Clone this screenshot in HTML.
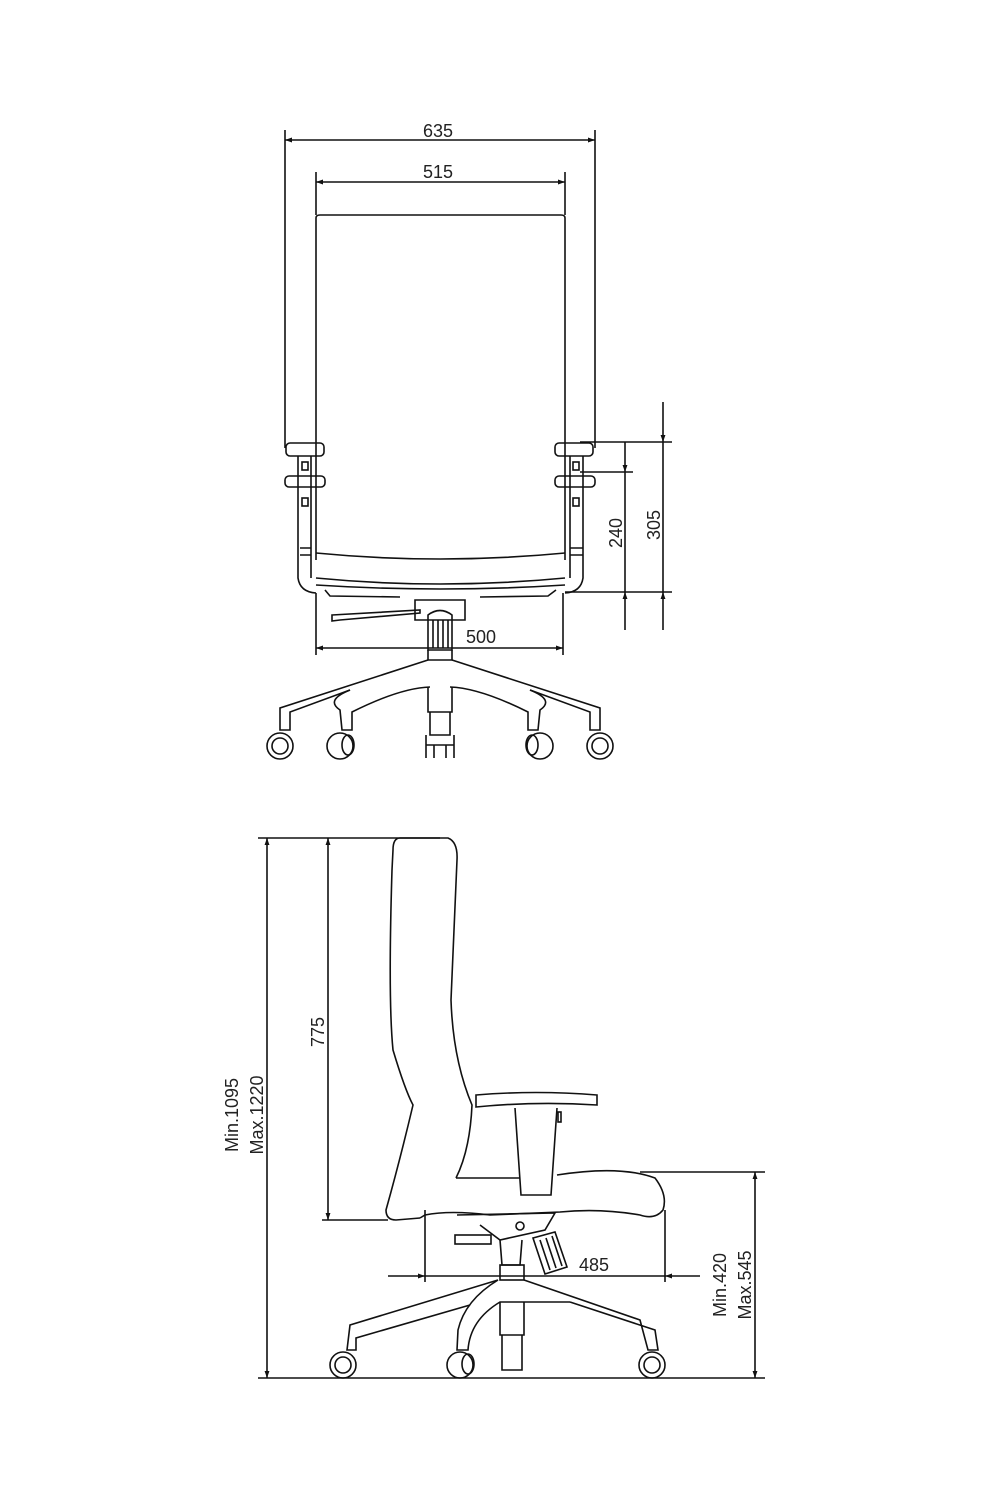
<!DOCTYPE html>
<html><head><meta charset="utf-8"><style>
html,body{margin:0;padding:0;background:#fff}
svg{display:block}
text{font-family:"Liberation Sans","DejaVu Sans",sans-serif;font-size:18px;fill:#222}
</style></head><body>
<svg width="1000" height="1500" viewBox="0 0 1000 1500" xmlns="http://www.w3.org/2000/svg">
<defs>
<marker id="a" viewBox="0 0 10 10" refX="10" refY="5" markerWidth="14" markerHeight="7" orient="auto-start-reverse" markerUnits="userSpaceOnUse"><path d="M0,1.5 L10,5 L0,8.5z" fill="#111"/></marker>
</defs>
<g fill="none" stroke="#111" stroke-width="1.6">
<!-- FRONT VIEW dims -->
<line x1="285" y1="130" x2="285" y2="448"/><line x1="595" y1="130" x2="595" y2="448"/>
<line x1="285" y1="140" x2="595" y2="140" marker-start="url(#a)" marker-end="url(#a)"/>
<line x1="316" y1="172" x2="316" y2="215"/><line x1="565" y1="172" x2="565" y2="215"/>
<line x1="316" y1="182" x2="565" y2="182" marker-start="url(#a)" marker-end="url(#a)"/>
<!-- backrest -->
<path d="M316,560 L316,218 Q316,215 320,215 L561,215 Q565,215 565,218 L565,560"/>
<!-- seat -->
<path d="M316,553 Q440,565 565,553"/>
<path d="M316,578 Q440,590 565,578"/>
<path d="M316,585 Q440,593 565,585"/>
<path d="M325,590 L330,596 L400,597 M480,597 L548,596 L556,590"/>
<!-- arms left -->
<rect x="286" y="443" width="38" height="13" rx="4"/>
<rect x="285" y="476" width="40" height="11" rx="4"/>
<path d="M298,456 L298,578 Q300,592 316,593 M311,456 L311,578"/>
<rect x="302" y="462" width="6" height="8"/><rect x="302" y="498" width="6" height="8"/>
<path d="M300,548 L311,548 M300,555 L311,555"/>
<!-- arms right -->
<rect x="555" y="443" width="38" height="13" rx="4"/>
<rect x="555" y="476" width="40" height="11" rx="4"/>
<path d="M570,456 L570,578 M583,456 L583,578 Q581,592 565,593"/>
<rect x="573" y="462" width="6" height="8"/><rect x="573" y="498" width="6" height="8"/>
<path d="M570,548 L583,548 M570,555 L583,555"/>
<!-- mechanism -->
<path d="M415,600 L415,620 L465,620 L465,600 Z"/>
<path d="M332,615 L420,610 L420,613 L340,620 L332,621 Z"/>
<path d="M428,615 L428,650 L452,650 L452,615 Q440,606 428,615Z"/>
<path d="M433,620 L433,648 M438,620 L438,648 M443,620 L443,648 M448,620 L448,648"/>
<path d="M428,650 L428,660 L452,660 L452,650"/>
<!-- 500 dim -->
<line x1="316" y1="593" x2="316" y2="655"/><line x1="563" y1="593" x2="563" y2="655"/>
<line x1="316" y1="648" x2="563" y2="648" marker-start="url(#a)" marker-end="url(#a)"/>
<!-- 240/305 -->
<line x1="580" y1="442" x2="672" y2="442"/><line x1="580" y1="472" x2="633" y2="472"/>
<line x1="565" y1="592" x2="672" y2="592"/>
<line x1="625" y1="442" x2="625" y2="472" marker-end="url(#a)"/>
<line x1="625" y1="472" x2="625" y2="592"/>
<line x1="625" y1="630" x2="625" y2="592" marker-end="url(#a)"/>
<line x1="663" y1="402" x2="663" y2="442" marker-end="url(#a)"/>
<line x1="663" y1="442" x2="663" y2="592"/>
<line x1="663" y1="630" x2="663" y2="592" marker-end="url(#a)"/>
<!-- base front -->
<path d="M428,660 L280,708 L280,730 L290,730 L290,712 L350,690"/>
<path d="M452,660 L600,708 L600,730 L590,730 L590,712 L530,690"/>
<path d="M350,690 Q325,700 340,710 L342,730 L352,730 L352,712 Q400,688 430,687"/>
<path d="M530,690 Q555,700 540,710 L538,730 L528,730 L528,712 Q480,688 450,687"/>
<path d="M428,687 L428,712 L452,712 L452,687"/>
<path d="M430,712 L430,735 L450,735 L450,712"/>
<path d="M426,735 L426,758 M454,735 L454,758 M434,745 L434,758 M446,745 L446,758 M426,745 L454,745"/>
<circle cx="280" cy="746" r="13"/><circle cx="280" cy="746" r="8"/>
<circle cx="600" cy="746" r="13"/><circle cx="600" cy="746" r="8"/>
<ellipse cx="340" cy="746" rx="13" ry="13"/><ellipse cx="348" cy="745" rx="6" ry="10"/>
<ellipse cx="540" cy="746" rx="13" ry="13"/><ellipse cx="532" cy="745" rx="6" ry="10"/>

<!-- SIDE VIEW dims -->
<line x1="258" y1="838" x2="440" y2="838"/>
<line x1="267" y1="838" x2="267" y2="1378" marker-start="url(#a)" marker-end="url(#a)"/>
<line x1="328" y1="838" x2="328" y2="1220" marker-start="url(#a)" marker-end="url(#a)"/>
<line x1="322" y1="1220" x2="388" y2="1220"/>
<line x1="258" y1="1378" x2="765" y2="1378"/>
<!-- backrest side -->
<path d="M400,838 L448,838 Q458,842 457,860 L451,1000 Q453,1060 472,1105 Q470,1150 456,1178"/>
<path d="M400,838 Q393,838 393,850 L392,870 Q388,1000 393,1050 Q405,1090 413,1105 Q400,1160 386,1210 Q386,1220 396,1220 L420,1218"/>
<!-- seat side -->
<path d="M456,1178 L520,1178 M557,1175 Q620,1165 655,1178 Q668,1195 663,1210 Q655,1220 640,1215 Q600,1208 560,1212 L490,1215 Q450,1210 425,1215 L420,1218"/>
<!-- armrest side -->
<path d="M476,1095 Q536,1090 597,1095 L597,1105 Q536,1101 476,1107 Z"/>
<path d="M515,1108 L521,1195 L551,1195 L557,1108"/>
<rect x="558" y="1112" width="3" height="10"/>
<!-- mechanism side -->
<path d="M457,1215 L555,1213 L545,1230 L500,1240 L480,1225"/>
<circle cx="520" cy="1226" r="4"/>
<rect x="455" y="1235" width="36" height="9"/>
<path d="M500,1240 L502,1265 L520,1265 L522,1240"/>
<path d="M533,1238 L555,1232 L567,1267 L545,1274 Z"/>
<path d="M540,1240 L550,1270 M546,1238 L556,1268 M552,1236 L562,1266"/>
<!-- 485 -->
<line x1="425" y1="1210" x2="425" y2="1282"/><line x1="665" y1="1210" x2="665" y2="1282"/>
<line x1="388" y1="1276" x2="425" y2="1276" marker-end="url(#a)"/>
<line x1="425" y1="1276" x2="665" y2="1276"/>
<line x1="700" y1="1276" x2="665" y2="1276" marker-end="url(#a)"/>
<!-- 420/545 -->
<line x1="640" y1="1172" x2="765" y2="1172"/>
<line x1="755" y1="1172" x2="755" y2="1378" marker-start="url(#a)" marker-end="url(#a)"/>
<!-- base side -->
<rect x="500" y="1265" width="24" height="15"/>
<path d="M498,1280 L350,1325 L347,1350 L356,1350 L356,1338 L470,1305"/>
<path d="M524,1280 L640,1320 L648,1350 L658,1350 L655,1330 L570,1302"/>
<path d="M498,1280 Q465,1300 458,1330 L457,1350 L468,1350 Q470,1320 500,1302 L540,1302 L570,1302"/>
<path d="M500,1302 L500,1335 L524,1335 L524,1302"/>
<path d="M502,1335 L502,1370 L522,1370 L522,1335"/>
<circle cx="343" cy="1365" r="13"/><circle cx="343" cy="1365" r="8"/>
<circle cx="652" cy="1365" r="13"/><circle cx="652" cy="1365" r="8"/>
<ellipse cx="460" cy="1365" rx="13" ry="13"/><ellipse cx="468" cy="1364" rx="6" ry="10"/>
</g>
<text x="438" y="137" text-anchor="middle">635</text>
<text x="438" y="178" text-anchor="middle">515</text>
<text x="481" y="643" text-anchor="middle">500</text>
<text transform="translate(622,533) rotate(-90)" text-anchor="middle">240</text>
<text transform="translate(660,525) rotate(-90)" text-anchor="middle">305</text>
<text transform="translate(324,1032) rotate(-90)" text-anchor="middle">775</text>
<text transform="translate(238,1115) rotate(-90)" text-anchor="middle">Min.1095</text>
<text transform="translate(263,1115) rotate(-90)" text-anchor="middle">Max.1220</text>
<text x="594" y="1271" text-anchor="middle">485</text>
<text transform="translate(726,1285) rotate(-90)" text-anchor="middle">Min.420</text>
<text transform="translate(751,1285) rotate(-90)" text-anchor="middle">Max.545</text>
</svg>
</body></html>
